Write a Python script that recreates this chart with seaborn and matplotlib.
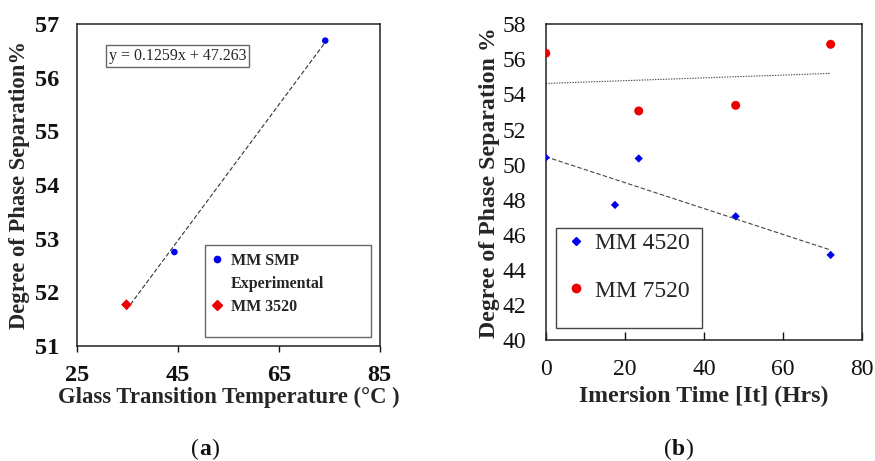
import numpy as np
import pandas as pd
import matplotlib
matplotlib.use("Agg")
import matplotlib.pyplot as plt
import seaborn as sns
from matplotlib.lines import Line2D
from matplotlib.patches import Rectangle
from matplotlib.offsetbox import TextArea, HPacker, AnchoredOffsetbox

# ---- data (panel a) ----
tg_smp = [34.8, 44.3, 74.2]
dps_smp = [51.77, 52.75, 56.69]
tg_3520 = [34.8]
dps_3520 = [51.77]
equation_label = "y = 0.1259x + 47.263"

# ---- data (panel b) ----
time_4520 = [0, 17.5, 23.5, 48, 72]
dps_4520 = [50.4, 47.7, 50.35, 47.05, 44.85]
time_7520 = [0, 23.5, 48, 72]
dps_7520 = [56.35, 53.06, 53.38, 56.86]

xticks_a = [25, 45, 65, 85]
yticks_a = [51, 52, 53, 54, 55, 56, 57]
xticks_b = [0, 20, 40, 60, 80]
yticks_b = [40, 42, 44, 46, 48, 50, 52, 54, 56, 58]

sns.set_theme(style="white")
plt.rcParams["font.family"] = ["Liberation Serif", "DejaVu Serif"]

SERIF = ["Liberation Serif", "DejaVu Serif"]

fig = plt.figure(figsize=(8.75, 4.61), dpi=100)
fig.patch.set_facecolor("white")

ax1 = fig.add_axes([0.088, 0.2495, 0.346, 0.6985])
ax2 = fig.add_axes([0.6237, 0.2625, 0.3618, 0.6848])

for ax in (ax1, ax2):
    ax.set_facecolor("white")
    for s in ax.spines.values():
        s.set_visible(True)
        s.set_color("#222222")
        s.set_linewidth(1.1)

# ---------------- panel a ----------------
df_a = pd.DataFrame({"tg": tg_smp, "dps": dps_smp})
sns.regplot(data=df_a, x="tg", y="dps", scatter=False, ci=None, ax=ax1,
            line_kws=dict(color="#333333", lw=0.8, ls=(0, (4, 2))))
sns.scatterplot(x=tg_smp, y=dps_smp, ax=ax1, color="#0000ee", marker="o",
                s=22, edgecolor="none", zorder=3)
sns.scatterplot(x=tg_3520, y=dps_3520, ax=ax1, color="#ee0000", marker="D",
                s=30, edgecolor="none", zorder=4)
ax1.set_xlim(25, 85)
ax1.set_ylim(51, 57)
ax1.set_xticks(xticks_a)
ax1.set_yticks(yticks_a)
ax1.tick_params(axis="x", direction="out", length=4, width=1.0, pad=10,
                labelsize=17.5, bottom=True, colors="#111111")
ax1.tick_params(axis="y", length=0, pad=13, labelsize=17.5, left=True,
                colors="#111111")
for lab in ax1.get_xticklabels() + ax1.get_yticklabels():
    lab.set_fontweight("bold")
ax1.set_xlabel("Glass Transition Temperature (°C )", fontsize=16.3,
               fontweight="bold", labelpad=0)
ax1.set_ylabel("Degree of Phase Separation%", fontsize=16.3,
               fontweight="bold", labelpad=3)

ax1.text(0.332, 0.90, equation_label, transform=ax1.transAxes,
         ha="center", va="center", fontsize=11.5,
         bbox=dict(boxstyle="square,pad=0.18", fc="white", ec="#666666", lw=1.0))

ax1.add_patch(Rectangle((0.422, 0.028), 0.548, 0.286, transform=ax1.transAxes,
                        fill=False, ec="#666666", lw=1.0, zorder=5))
h_a = [Line2D([], [], ls="none", marker="o", color="#0000ee", ms=4.5),
       Line2D([], [], ls="none", marker="none"),
       Line2D([], [], ls="none", marker="D", color="#ee0000", ms=5)]
ax1.legend(h_a, ["MM SMP", "Experimental", "MM 3520"], loc="upper left",
           bbox_to_anchor=(0.43, 0.30), frameon=False,
           prop=dict(weight="bold", size=11.5, family=SERIF),
           handlelength=0.8, handletextpad=0.5, labelspacing=0.45,
           borderaxespad=0, borderpad=0.2)

# ---------------- panel b ----------------
df_45 = pd.DataFrame({"t": time_4520, "d": dps_4520})
df_75 = pd.DataFrame({"t": time_7520, "d": dps_7520})
sns.regplot(data=df_45, x="t", y="d", scatter=False, ci=None, ax=ax2,
            line_kws=dict(color="#444444", lw=0.8, ls=(0, (4, 2))))
sns.regplot(data=df_75, x="t", y="d", scatter=False, ci=None, ax=ax2,
            line_kws=dict(color="#444444", lw=0.8, ls=(0, (1.2, 1.2))))
sns.scatterplot(x=time_4520, y=dps_4520, ax=ax2, color="#0000ee", marker="D",
                s=18, edgecolor="none", zorder=3)
sns.scatterplot(x=time_7520, y=dps_7520, ax=ax2, color="#ee0000", marker="o",
                s=42, edgecolor="none", zorder=3)
ax2.set_xlim(0, 80)
ax2.set_ylim(40, 58)
ax2.set_xticks(xticks_b)
ax2.set_yticks(yticks_b)
ax2.tick_params(axis="x", direction="in", length=6, width=1.0, pad=14,
                labelsize=17, bottom=True, colors="#111111")
ax2.tick_params(axis="y", length=0, pad=14, labelsize=17, left=True,
                colors="#111111")
ax2.set_xlabel("Imersion Time [It] (Hrs)", fontsize=17.2, fontweight="bold",
               labelpad=4)
ax2.set_ylabel("Degree of Phase Separation %", fontsize=17.2, fontweight="bold",
               labelpad=2)

ax2.add_patch(Rectangle((0.033, 0.037), 0.462, 0.319, transform=ax2.transAxes,
                        fill=False, ec="#444444", lw=1.0, zorder=5))
h_b = [Line2D([], [], ls="none", marker="D", color="#0000ee", ms=4),
       Line2D([], [], ls="none", marker="o", color="#ee0000", ms=6)]
ax2.legend(h_b, ["MM 4520", "MM 7520"], loc="upper left",
           bbox_to_anchor=(0.05, 0.355), frameon=False,
           prop=dict(size=17, family=SERIF),
           handlelength=0.8, handletextpad=0.4, labelspacing=1.1,
           borderaxespad=0, borderpad=0.2)

# ---------------- captions ----------------
def caption(letter, x, y):
    tp = dict(fontsize=17, family=SERIF, color="#111111")
    parts = [TextArea("(", textprops=tp),
             TextArea(letter, textprops=dict(tp, weight="bold")),
             TextArea(")", textprops=tp)]
    box = HPacker(children=parts, align="baseline", pad=0, sep=0)
    ab = AnchoredOffsetbox(loc="center", child=box, frameon=False,
                           bbox_to_anchor=(x, y),
                           bbox_transform=fig.transFigure,
                           borderpad=0, pad=0)
    fig.add_artist(ab)

caption("a", 0.234, 0.026)
caption("b", 0.775, 0.026)

fig.savefig("out.png", dpi=100, facecolor="white")
